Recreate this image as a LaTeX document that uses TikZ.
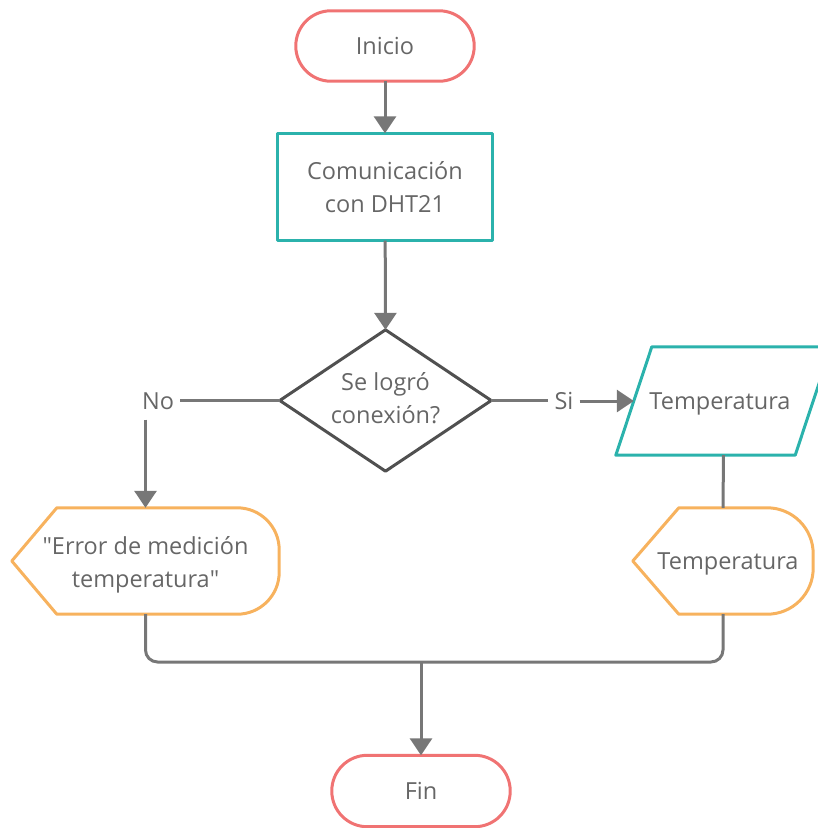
\documentclass[tikz,border=0pt]{standalone}
\usepackage{fontspec}
\setmainfont{Open Sans}
\usetikzlibrary{arrows.meta,calc}

\definecolor{termred}{HTML}{F07373}
\definecolor{procteal}{HTML}{2BB2AC}
\definecolor{dispor}{HTML}{F7B25E}
\definecolor{decgray}{HTML}{505050}
\definecolor{flowgray}{HTML}{777777}
\definecolor{txtgray}{HTML}{666666}

% lower a label's ink without changing the size it reports
\newcommand{\dropby}[2]{\raisebox{-#1}[\height][\depth]{#2}}
\newcommand{\twolines}[2]{\begin{tabular}{@{}c@{}}#1\\#2\end{tabular}}

\tikzset{
  lbl/.style={font=\fontsize{23.5}{33}\selectfont, text=txtgray, align=center, inner sep=0pt},
  frame/.style={line width=3pt, line join=round},
  link/.style={draw=flowgray, line width=3pt},
  flow/.style={link, -{Triangle[length=17pt,width=22pt]}},
}

\begin{document}
\begin{tikzpicture}[x=1pt,y=-1pt]
  \useasboundingbox (0,0) rectangle (818,828);

  % ---- nodes (text and extents) ----
  \node[lbl, minimum width=178pt, minimum height=70pt] (ini) at (385,46) {Inicio};
  \node[lbl, minimum width=214pt, minimum height=107pt] (com) at (385,187) {\dropby{2pt}{\twolines{Comunicación}{con DHT21}}};
  \node[lbl, minimum width=211pt, minimum height=141pt] (dec) at (385.5,400.5) {\twolines{Se logró}{conexión?}};
  \node[lbl, minimum width=215pt, minimum height=108pt] (tin) at (723.5,401) {\hspace*{-7pt}\dropby{3pt}{Temperatura}};
  \node[lbl, minimum width=267pt, minimum height=106pt] (err) at (145.5,561) {\dropby{3pt}{\twolines{\textquotedbl Error de medición}{temperatura\textquotedbl}}};
  \node[lbl, minimum width=180pt, minimum height=106pt] (tout) at (723,561) {\hspace*{10pt}\dropby{3pt}{Temperatura}};
  \node[lbl, minimum width=178pt, minimum height=71pt] (fin) at (421,791) {Fin};
  \node[lbl, inner sep=6pt] (no) at (158,401) {No};
  \node[lbl, inner sep=6pt] (si) at (564,401) {Si};
  \coordinate (join) at (421,662);

  % ---- shapes ----
  % terminals
  \draw[frame, draw=termred, rounded corners=35pt] (ini.north west) rectangle (ini.south east);
  \draw[frame, draw=termred, rounded corners=35.5pt] (fin.north west) rectangle (fin.south east);
  % process
  \draw[frame, draw=procteal] (com.north west) rectangle (com.south east);
  % decision
  \draw[frame, draw=decgray] (dec.north) -- (dec.east) -- (dec.south) -- (dec.west) -- cycle;
  % input (parallelogram)
  \draw[frame, draw=procteal] ([xshift=36pt]tin.north west) -- (tin.north east)
    -- ([xshift=-36pt]tin.south east) -- (tin.south west) -- cycle;
  % displays
  \draw[frame, draw=dispor] (err.west) -- ([xshift=45pt]err.north west)
    -- ([xshift=-42pt]err.north east) arc[start angle=90, end angle=0, radius=42pt]
    -- ([yshift=42pt]err.south east) arc[start angle=0, end angle=-90, radius=42pt]
    -- ([xshift=45pt]err.south west) -- cycle;
  \draw[frame, draw=dispor] (tout.west) -- ([xshift=46pt]tout.north west)
    -- ([xshift=-46pt]tout.north east) arc[start angle=90, end angle=0, radius=46pt]
    -- ([yshift=46pt]tout.south east) arc[start angle=0, end angle=-90, radius=46pt]
    -- ([xshift=46pt]tout.south west) -- cycle;

  % ---- connectors ----
  \draw[flow] (ini) -- (com);
  \draw[flow] (com) -- (dec.north);
  \draw[link] (dec.west) -- (dec.west -| no.east);
  \draw[flow] ($(no.south -| err.north)+(0,4)$) -- (err.north);
  \draw[link] (dec.east) -- (dec.east -| si.west);
  \draw[flow] (si.east |- tin.west) -- ([xshift=18pt]tin.west);
  \draw[link] (tin.south) -- (tout.north);
  \draw[link, rounded corners=12pt] (err.south) |- (join) -| (tout.south);
  \draw[flow] (join) -- (fin.north);
\end{tikzpicture}
\end{document}
